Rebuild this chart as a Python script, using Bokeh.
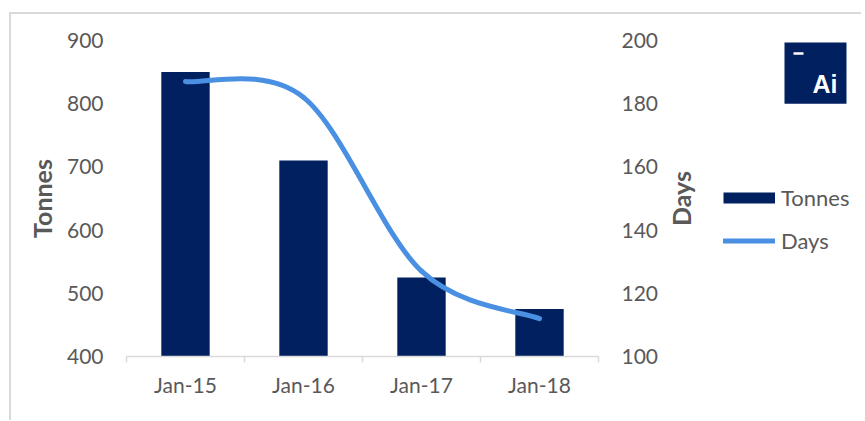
import math
import numpy as np
from bokeh.plotting import figure
from bokeh.layouts import row
from bokeh.models import (Range1d, LinearAxis, FixedTicker, Legend, LegendItem,
                          BoxAnnotation, Label)
from bokeh.embed import file_html
from bokeh.resources import INLINE

# ---- data -------------------------------------------------------------
categories = ["Jan-15", "Jan-16", "Jan-17", "Jan-18"]
tonnes = [850, 710, 525, 475]
days = [187, 182, 127, 112]
tonnes_ticks = [400, 500, 600, 700, 800, 900]
days_ticks = [100, 120, 140, 160, 180, 200]
left_title = "Tonnes"
right_title = "Days"

# ---- styles -----------------------------------------------------------
NAVY = "#002060"
LINE = "#4A90E2"
TEXT = "#595959"
AXIS = "#D9D9D9"
FONT = "Lato"
TICK_SIZE = "21px"
TITLE_SIZE = "25px"
CANVAS_H = 406

xc = np.arange(len(categories)) + 0.5

p = figure(frame_width=472, frame_height=316,
           x_range=Range1d(0, len(categories)),
           y_range=Range1d(tonnes_ticks[0], tonnes_ticks[-1]),
           output_backend="svg", toolbar_location=None, tools="",
           min_border_left=115, min_border_right=67,
           min_border_top=26, min_border_bottom=CANVAS_H - 26 - 316)
p.outline_line_color = None
p.xgrid.visible = False
p.ygrid.visible = False
p.extra_y_ranges = {"days": Range1d(days_ticks[0], days_ticks[-1])}

# bars
p.vbar(x=xc, top=tonnes, bottom=tonnes_ticks[0], width=0.41,
       fill_color=NAVY, line_color=None)

# smoothed line (cubic Bezier segments through the data points)
n = len(days)
xs = list(xc)
ys = list(days)


def pt(i):
    i = min(max(i, 0), n - 1)
    return xs[i], ys[i]


bx0, by0, bx1, by1, cx0, cy0, cx1, cy1 = ([] for _ in range(8))
for i in range(n - 1):
    xa, ya = pt(i)
    xb, yb = pt(i + 1)
    xp, yp = pt(i - 1)
    xn, yn = pt(i + 2)
    bx0.append(xa); by0.append(ya); bx1.append(xb); by1.append(yb)
    cx0.append(xa + (xb - xp) / 6); cy0.append(ya + (yb - yp) / 6)
    cx1.append(xb - (xn - xa) / 6); cy1.append(yb - (yn - ya) / 6)

p.bezier(x0=bx0, y0=by0, x1=bx1, y1=by1, cx0=cx0, cy0=cy0, cx1=cx1, cy1=cy1,
         y_range_name="days", line_color=LINE, line_width=5, line_cap="round")

# x axis
xa = p.xaxis[0]
xa.ticker = FixedTicker(ticks=list(xc), minor_ticks=list(range(len(categories) + 1)))
xa.major_label_overrides = {float(v): c for v, c in zip(xc, categories)}
xa.axis_line_color = AXIS
xa.axis_line_width = 1.5
xa.major_tick_line_color = None
xa.major_tick_out = 0
xa.major_tick_in = 0
xa.minor_tick_line_color = AXIS
xa.minor_tick_line_width = 1.5
xa.minor_tick_out = 6
xa.minor_tick_in = 0
xa.major_label_standoff = 9
xa.major_label_text_font = FONT
xa.major_label_text_font_size = TICK_SIZE
xa.major_label_text_color = TEXT


def style_y(ax):
    ax.axis_line_color = None
    ax.major_tick_line_color = None
    ax.minor_tick_line_color = None
    ax.major_tick_out = 0
    ax.major_tick_in = 0
    ax.major_label_standoff = 23
    ax.major_label_text_font = FONT
    ax.major_label_text_font_size = TICK_SIZE
    ax.major_label_text_color = TEXT
    ax.axis_label_text_font = FONT
    ax.axis_label_text_font_size = TITLE_SIZE
    ax.axis_label_text_font_style = "bold"
    ax.axis_label_text_color = TEXT


ya = p.yaxis[0]
ya.ticker = FixedTicker(ticks=tonnes_ticks)
style_y(ya)
ya.axis_label = left_title
ya.axis_label_standoff = 7

ra = LinearAxis(y_range_name="days", ticker=FixedTicker(ticks=days_ticks))
style_y(ra)
p.add_layout(ra, "right")

# ---- side panel: right-axis title, legend, logo (frame aligned with main frame)
P2_W = 196
p2 = figure(width=P2_W, height=CANVAS_H, x_range=Range1d(0, 1), y_range=Range1d(0, 1),
            output_backend="svg", toolbar_location=None, tools="",
            x_axis_location=None, y_axis_location=None, min_border=0)
p2.outline_line_color = None
p2.xgrid.visible = False
p2.ygrid.visible = False

# right axis title, reading bottom-to-top like the left one
p2.add_layout(Label(x=15, y=158, x_units="screen", y_units="screen",
                    text=right_title, angle=math.pi / 2, angle_units="rad",
                    text_align="center", text_baseline="middle",
                    text_font=FONT, text_font_style="bold",
                    text_font_size=TITLE_SIZE, text_color=TEXT))

# hidden proxies that carry the legend swatches
leg_t = p2.line(x=xc, y=tonnes, line_color=NAVY, line_width=11, line_cap="butt",
                visible=False)
leg_d = p2.line(x=xc, y=days, line_color=LINE, line_width=5, line_cap="round",
                visible=False)
legend = Legend(items=[LegendItem(label="Tonnes", renderers=[leg_t]),
                       LegendItem(label="Days", renderers=[leg_d])],
                location=(58, 102), glyph_width=52, glyph_height=25,
                label_height=25, label_standoff=6, spacing=16, padding=0,
                margin=0, border_line_color=None, background_fill_alpha=0,
                inactive_fill_alpha=0,
                label_text_font=FONT, label_text_font_size="22px",
                label_text_color=TEXT)
p2.add_layout(legend)

scr = dict(left_units="screen", right_units="screen",
           bottom_units="screen", top_units="screen")
p2.add_layout(BoxAnnotation(left=119, right=181, bottom=252.7, top=314,
                            fill_color=NAVY, fill_alpha=1, line_alpha=0, **scr))
p2.add_layout(BoxAnnotation(left=128, right=138, bottom=301.7, top=304.3,
                            fill_color="white", fill_alpha=1, line_alpha=0, **scr))
p2.add_layout(Label(x=172, y=273, x_units="screen", y_units="screen", text="Ai",
                    text_align="right", text_baseline="alphabetic",
                    text_font="Liberation Sans", text_font_style="bold",
                    text_font_size="25px", text_color="white"))

layout = row(p, p2, spacing=0)
layout.styles = {"margin-left": "9px", "margin-top": "12px",
                 "border-top": "2px solid #D9D9D9",
                 "border-left": "2px solid #D9D9D9"}

open("out.html", "w").write(file_html(layout, INLINE))
